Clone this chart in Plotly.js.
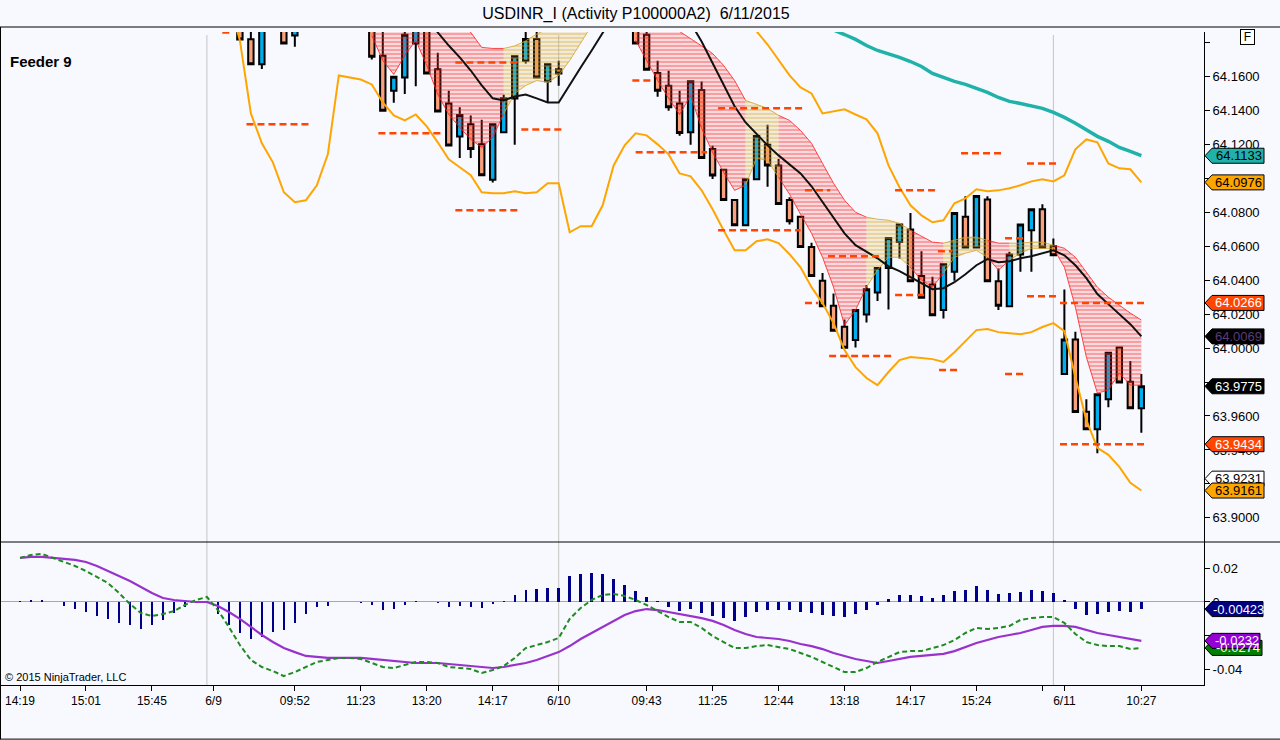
<!DOCTYPE html>
<html>
<head>
<meta charset="utf-8">
<script src="https://cdn.plot.ly/plotly-3.0.1.min.js"></script>
<style>
  html, body { margin: 0; padding: 0; background: #F7F9FE; }
  #chart { width: 1280px; height: 740px; }
</style>
</head>
<body>
<div id="chart"></div>
<script>
// ---- price bars (null = bar is above the visible window) ----
var openP = [
  null, null, null, null, null, null, null, null, null, null,
  null, null, null, null, null, null, null, null, null, null,
  64.195, 64.1819, 64.1672, null, 64.196, 64.1841, null, null, null, null,
  null, null, 64.196, 64.1722, 64.1516, 64.1594, 64.1794, 64.197, 64.1643, 64.1441,
  64.1247, 64.1319, 64.12, 64.0992, 64.1271, 64.147, 64.1692, 64.182, 64.1571, 64.1643,
  null, null, null, null, null, null, 64.197, 64.1845, 64.162, 64.1545,
  64.1441, 64.1271, 64.152, 64.1172, 64.105, 64.0872, 64.0724, 64.0994, 64.1198, 64.1075,
  64.0872, 64.0773, 64.0596, 64.0396, 64.0249, 64.0125, 64.0047, 64.0198, 64.0327, 64.0472,
  64.0625, 64.0698, 64.0425, 64.0375, 64.0224, 64.0449, 64.0773, 64.0592, 64.0875, 64.0394,
  64.0247, 64.0551, 64.0694, 64.0818, 64.06, 63.9847, 64.0051, 63.9625, 63.9522, 63.9698,
  64.0004, 63.9802, 63.9645
];
var highP = [
  null, null, null, null, null, null, null, null, null, null,
  null, null, null, null, null, null, null, null, null, null,
  64.199, 64.192, 64.198, null, 64.199, 64.196, null, null, null, null,
  null, null, 64.199, 64.195, 64.1598, 64.195, 64.199, 64.2, 64.174, 64.1516,
  64.1418, 64.137, 64.1345, 64.1319, 64.1492, 64.1719, 64.19, 64.19, 64.1672, 64.1692,
  null, null, null, null, null, null, 64.2, 64.195, 64.1692, 64.1633,
  64.1516, 64.1571, 64.157, 64.1192, 64.105, 64.0872, 64.0994, 64.1249, 64.1316, 64.1114,
  64.0888, 64.0773, 64.062, 64.0443, 64.0322, 64.0169, 64.0224, 64.0371, 64.0472, 64.0649,
  64.0728, 64.0796, 64.057, 64.042, 64.0494, 64.0796, 64.0894, 64.0896, 64.0894, 64.0469,
  64.0567, 64.0728, 64.0818, 64.0847, 64.0645, 64.0345, 64.0096, 63.9698, 63.9728, 63.9973,
  64.0004, 63.9924, 63.9847
];
var lowP = [
  null, null, null, null, null, null, null, null, null, null,
  null, null, null, null, null, null, null, null, null, null,
  64.181, 64.1672, 64.1644, null, 64.1794, 64.1775, null, null, null, null,
  null, null, 64.170, 64.1398, 64.1445, 64.1496, 64.1543, 64.1618, 64.1394, 64.1194,
  64.1119, 64.112, 64.1018, 64.0975, 64.1271, 64.1198, 64.1676, 64.1594, 64.1447, 64.1545,
  null, null, null, null, null, null, 64.1794, 64.1639, 64.148, 64.1398,
  64.1251, 64.1198, 64.112, 64.0996, 64.0872, 64.0724, 64.0724, 64.0994, 64.095, 64.0849,
  64.0728, 64.0596, 64.0425, 64.0247, 64.0102, 64.0002, 64.0004, 64.0151, 64.0278, 64.0228,
  64.0528, 64.0394, 64.0296, 64.0194, 64.0175, 64.0396, 64.0592, 64.0592, 64.0394, 64.0224,
  64.0247, 64.0449, 64.0449, 64.0592, 64.0547, 63.9847, 63.9624, 63.9522, 63.938, 63.9651,
  63.9798, 63.9645, 63.9502
];
var closeP = [
  null, null, null, null, null, null, null, null, null, null,
  null, null, null, null, null, null, null, null, null, null,
  64.1818, 64.1672, 64.195, null, 64.1794, 64.193, null, null, null, null,
  null, null, 64.1716, 64.1398, 64.1598, 64.1845, 64.196, 64.1618, 64.1394, 64.1194,
  64.1373, 64.1172, 64.1018, 64.1319, 64.1472, 64.1719, 64.182, 64.1594, 64.1672, 64.1618,
  null, null, null, null, null, null, 64.1794, 64.1639, 64.1516, 64.1418,
  64.1267, 64.1571, 64.112, 64.1016, 64.0872, 64.0724, 64.0994, 64.1249, 64.1075, 64.0849,
  64.0747, 64.0596, 64.0425, 64.0247, 64.0102, 64.0002, 64.0224, 64.0347, 64.0472, 64.0649,
  64.0728, 64.0394, 64.0296, 64.0194, 64.0494, 64.0796, 64.0592, 64.0896, 64.0394, 64.0249,
  64.0551, 64.0728, 64.0818, 64.0592, 64.0547, 64.0051, 63.9624, 63.9522, 63.9728, 63.9973,
  63.9798, 63.9645, 63.9775
];

// ---- envelope bands, long MA, black EMA ----
var lowerBand = [
  null, null, null, null, null, null, null, null, null, null,
  null, null, null, null, null, null, null, null, null, 64.205,
  64.1812, 64.1382, 64.1206, 64.1094, 64.0918, 64.0859, 64.0871, 64.0959, 64.1141, 64.1606,
  64.1594, 64.1582, 64.1553, 64.1447, 64.1371, 64.1341, 64.1376, 64.1306, 64.1212, 64.1112,
  64.1065, 64.1018, 64.0918, 64.0912, 64.0912, 64.0924, 64.0912, 64.0918, 64.0971, 64.0971,
  64.0682, 64.0718, 64.0718, 64.0841, 64.1076, 64.1194, 64.1265, 64.1253, 64.12, 64.1141,
  64.1029, 64.1012, 64.0929, 64.0818, 64.0694, 64.0576, 64.0576, 64.0629, 64.0641, 64.0618,
  64.0553, 64.0476, 64.0359, 64.0265, 64.0147, 63.9988, 63.9888, 63.9824, 63.9782, 63.9859,
  63.9929, 63.9947, 63.9941, 63.9935, 63.9918, 63.9976, 64.0041, 64.0106, 64.0112, 64.0094,
  64.0088, 64.0082, 64.0094, 64.0124, 64.0147, 64.0100, 63.9829, 63.9576, 63.9412, 63.9371,
  63.93, 63.9206, 63.9161
];
var upperBand = [
  null, null, null, null, null, null, null, null, null, null,
  null, null, null, null, null, null, null, null, null, null,
  null, null, null, null, null, null, null, null, null, null,
  null, null, null, null, null, null, null, null, null, null,
  null, null, null, null, null, null, null, null, null, null,
  null, null, null, null, null, null, null, null, null, null,
  null, null, null, null, null, null, 64.197, 64.1866, 64.1788, 64.1694,
  64.1606, 64.1535, 64.15, 64.1382, 64.1394, 64.1406, 64.1376, 64.1347, 64.1265, 64.1076,
  64.0947, 64.0841, 64.0782, 64.0741, 64.0753, 64.0853, 64.0882, 64.0935, 64.0924, 64.0929,
  64.0941, 64.0959, 64.0982, 64.0994, 64.0982, 64.1018, 64.1171, 64.1229, 64.1212, 64.1088,
  64.1059, 64.1053, 64.0976
];
var longMA = [
  null, null, null, null, null, null, null, null, null, null,
  null, null, null, null, null, null, null, null, null, null,
  null, null, null, null, null, null, null, null, null, null,
  null, null, null, null, null, null, null, null, null, null,
  null, null, null, null, null, null, null, null, null, null,
  null, null, null, null, null, null, null, null, null, null,
  null, null, null, null, null, null, null, null, null, null,
  null, null, null, 64.19, 64.1876, 64.1847, 64.1818, 64.1782, 64.1753, 64.1735,
  64.1712, 64.1688, 64.1659, 64.1618, 64.1594, 64.1571, 64.1553, 64.1529, 64.1506, 64.1476,
  64.1453, 64.1441, 64.1424, 64.1412, 64.1388, 64.1359, 64.1324, 64.1288, 64.1247, 64.1218,
  64.1182, 64.1159, 64.1133
];
var blackEma = [
  null, null, null, null, null, null, null, null, null, null,
  null, null, null, null, null, null, null, null, null, null,
  null, null, null, null, null, null, null, null, null, null,
  null, null, null, null, null, null, null, 64.195, 64.1859, 64.1782,
  64.1712, 64.1635, 64.1547, 64.1471, 64.1459, 64.1482, 64.1494, 64.1471, 64.1447, 64.1447,
  64.1553, 64.1653, 64.1753, 64.1853, 64.196, 64.203, 64.205, 64.204, 64.201, 64.198,
  64.195, 64.1915, 64.1806, 64.1676, 64.1547, 64.1424, 64.1329, 64.1259, 64.1194, 64.1135,
  64.1082, 64.1029, 64.0953, 64.0859, 64.0771, 64.0676, 64.0606, 64.0565, 64.0529, 64.0482,
  64.0453, 64.0418, 64.0382, 64.0347, 64.0353, 64.0388, 64.0435, 64.0488, 64.0524, 64.0506,
  64.0512, 64.0529, 64.0541, 64.0559, 64.0576, 64.0547, 64.0488, 64.0412, 64.0318, 64.0259,
  64.02, 64.0141, 64.0069
];

// ---- moving-average ribbon: outer edges and tone (r = falling, g = rising) ----
var ribbonSlow = [
  null, null, null, null, null, null, null, null, null, null,
  null, null, null, null, null, null, null, null, null, null,
  null, null, null, null, null, null, null, null, null, null,
  null, null, 64.196, 64.196, 64.196, 64.196, 64.196, 64.196, 64.194, 64.192,
  64.19, 64.186, 64.1771, 64.1765, 64.1765, 64.178, 64.181, 64.185, 64.188, 64.19,
  64.196, 64.198, 64.2, null, null, null, 64.198, 64.196, 64.193, 64.19,
  64.1865, 64.1824, 64.178, 64.1735, 64.1665, 64.1576, 64.1459, 64.1435, 64.1412, 64.1371,
  64.1341, 64.1282, 64.1206, 64.1088, 64.0971, 64.0871, 64.08, 64.0771, 64.0759, 64.0753,
  64.0735, 64.0694, 64.0659, 64.0624, 64.0618, 64.0635, 64.0653, 64.0653, 64.0635, 64.0618,
  64.0618, 64.0618, 64.0624, 64.0624, 64.0606, 64.0588, 64.0535, 64.0447, 64.0359, 64.03,
  64.0253, 64.0206, 64.0165
];
var ribbonFast = [
  null, null, null, null, null, null, null, null, null, null,
  null, null, null, null, null, null, null, null, null, null,
  null, null, null, null, null, null, null, null, null, null,
  null, null, 64.1841, 64.1694, 64.1612, 64.1724, 64.1812, 64.1665, 64.1494, 64.1376,
  64.13, 64.1229, 64.1182, 64.1241, 64.138, 64.150, 64.1547, 64.1576, 64.1565, 64.1606,
  64.1694, 64.18, 64.19, null, null, null, 64.1812, 64.1694, 64.1576, 64.1471,
  64.1376, 64.1488, 64.1294, 64.1153, 64.1035, 64.0929, 64.0959, 64.1118, 64.1106, 64.1006,
  64.0906, 64.0788, 64.0676, 64.0535, 64.0359, 64.0135, 64.0224, 64.0359, 64.0459, 64.0535,
  64.0535, 64.0476, 64.04, 64.0359, 64.0441, 64.0535, 64.0559, 64.0576, 64.0535, 64.0459,
  64.0518, 64.0559, 64.0588, 64.0588, 64.0588, 64.0476, 64.0241, 63.9947, 63.9735, 63.9753,
  63.9853, 63.9782, 63.9782
];
var ribbonTone = [
  null, null, null, null, null, null, null, null, null, null,
  null, null, null, null, null, null, null, null, null, null,
  null, null, null, null, null, null, null, null, null, null,
  null, null, 'r', 'r', 'r', 'r', 'r', 'r', 'r', 'r',
  'r', 'r', 'r', 'r', 'g', 'g', 'g', 'g', 'g', 'g',
  'g', 'g', 'g', null, null, null, 'r', 'r', 'r', 'r',
  'r', 'r', 'r', 'r', 'r', 'r', 'g', 'g', 'g', 'r',
  'r', 'r', 'r', 'r', 'r', 'r', 'r', 'g', 'g', 'g',
  'g', 'r', 'r', 'r', 'g', 'g', 'g', 'g', 'r', 'r',
  'g', 'g', 'g', 'g', 'r', 'r', 'r', 'r', 'r', 'r',
  'r', 'r', 'r'
];

// ---- pivot levels (dashed) ----
var pivotLevel = [64.1859, 64.1318, 64.1265, 64.1682, 64.0812, 64.1288, 64.1576, 64.1153, 64.1412, 64.0694,
  64.0929, 64.0265, 64.0541, 63.9953, 64.0929, 64.0312, 63.9871, 64.0571, 64.1147, 64.0647,
  63.9847, 64.1088, 64.0306, 64.0266, 63.9434];
var pivotFrom = [18.4, 20.6, 32.6, 39.6, 39.6, 45.6, 55.7, 56.0, 63.5, 63.5,
  71.4, 71.4, 73.5, 73.6, 79.6, 79.6, 83.6, 83.5, 85.6, 89.6,
  89.6, 91.6, 91.6, 94.6, 94.6];
var pivotTo = [19.3, 26.4, 38.6, 45.5, 45.3, 49.4, 57.5, 62.5, 71.4, 71.0,
  73.7, 72.6, 78.4, 79.4, 83.4, 82.6, 85.4, 84.8, 89.4, 91.3,
  91.4, 94.4, 94.4, 102.4, 102.4];

// ---- MACD panel ----
var macdHist = [
  0.0006, 0.0012, 0.0012, 0.0, -0.0022, -0.0042, -0.0058, -0.0084, -0.01, -0.0124,
  -0.0137, -0.0161, -0.0137, -0.0107, -0.0068, -0.0028, -0.0008, 0.0005, -0.0072, -0.0137,
  -0.0183, -0.0221, -0.0207, -0.0177, -0.0167, -0.0124, -0.0072, -0.0028, -0.0024, 0.0,
  0.0, -0.0004, -0.0018, -0.0048, -0.0042, -0.002, 0.0006, 0.0, -0.0008, -0.0028,
  -0.0022, -0.0028, -0.0034, -0.0014, 0.0008, 0.0042, 0.0072, 0.008, 0.0086, 0.0086,
  0.0155, 0.0167, 0.0173, 0.0165, 0.0137, 0.0101, 0.0068, 0.0032, 0.0006, -0.0028,
  -0.0052, -0.0044, -0.0068, -0.0084, -0.0098, -0.0112, -0.0092, -0.0058, -0.0048, -0.0048,
  -0.0048, -0.0058, -0.0068, -0.0078, -0.0084, -0.0092, -0.0072, -0.0048, -0.0018, 0.0016,
  0.0042, 0.0042, 0.0036, 0.0022, 0.0042, 0.0068, 0.0072, 0.0096, 0.0072, 0.0048,
  0.0052, 0.0058, 0.0072, 0.0068, 0.0056, 0.0012, -0.0042, -0.0078, -0.0072, -0.0058,
  -0.0054, -0.0058, -0.0042
];
var macdSignal = [
  0.0263, 0.0269, 0.0269, 0.0263, 0.0257, 0.0251, 0.0239, 0.0215, 0.0185, 0.0155,
  0.0125, 0.009, 0.0054, 0.0024, 0.0012, 0.0006, 0.0, 0.0, -0.0024, -0.006,
  -0.0101, -0.0149, -0.0197, -0.0239, -0.0275, -0.0299, -0.0322, -0.0328, -0.0334, -0.0334,
  -0.0334, -0.0334, -0.034, -0.0346, -0.0352, -0.0358, -0.0364, -0.0364, -0.0364, -0.037,
  -0.0376, -0.0382, -0.0388, -0.0394, -0.0388, -0.0376, -0.0364, -0.0346, -0.0322, -0.0299,
  -0.0263, -0.0221, -0.0185, -0.0149, -0.0113, -0.0078, -0.0054, -0.0042, -0.0048, -0.006,
  -0.0072, -0.0084, -0.0096, -0.0113, -0.0137, -0.0167, -0.0191, -0.0209, -0.0215, -0.0221,
  -0.0233, -0.0251, -0.0263, -0.0281, -0.0304, -0.0322, -0.034, -0.0352, -0.0364, -0.0352,
  -0.034, -0.0328, -0.0322, -0.0316, -0.031, -0.0293, -0.0269, -0.0245, -0.0227, -0.0209,
  -0.0197, -0.0185, -0.0167, -0.0149, -0.0143, -0.0143, -0.0149, -0.0167, -0.0185, -0.0197,
  -0.0209, -0.0221, -0.0232
];
var macdLine = [
  0.0263, 0.0281, 0.0287, 0.0263, 0.0239, 0.0215, 0.0185, 0.0149, 0.0113, 0.0054,
  -0.0012, -0.0066, -0.0084, -0.0072, -0.0054, -0.0018, 0.0012, 0.003, -0.0048, -0.0149,
  -0.0257, -0.0346, -0.0388, -0.0412, -0.0442, -0.0418, -0.0388, -0.0358, -0.0346, -0.0334,
  -0.0334, -0.034, -0.0364, -0.0388, -0.0394, -0.0376, -0.0358, -0.0358, -0.0364, -0.0388,
  -0.0394, -0.04, -0.0424, -0.0406, -0.0382, -0.0334, -0.0275, -0.0257, -0.0239, -0.0215,
  -0.0101, -0.0036, 0.0012, 0.0042, 0.0048, 0.0036, 0.0012, -0.0018, -0.0054, -0.009,
  -0.0119, -0.0119, -0.0155, -0.0203, -0.0239, -0.0275, -0.0275, -0.0263, -0.0257, -0.0269,
  -0.0281, -0.0304, -0.0328, -0.0358, -0.0388, -0.0418, -0.0418, -0.0394, -0.0358, -0.0328,
  -0.0299, -0.0293, -0.0293, -0.0275, -0.0257, -0.0227, -0.0185, -0.0155, -0.0161, -0.0155,
  -0.0143, -0.0107, -0.0096, -0.009, -0.009, -0.0125, -0.0191, -0.0239, -0.0257, -0.0263,
  -0.0263, -0.0281, -0.0274
];

// ---- axis ticks and right-hand value tags ----
var timeTickPos = [0, 6, 12, 17.6, 25, 31, 37, 43, 49, 57, 63, 69, 75, 81, 87, 93, 95, 102];
var timeTickText = ['14:19', '15:01', '15:45', '6/9', '09:52', '11:23', '13:20', '14:17', '6/10',
  '09:43', '11:25', '12:44', '13:18', '14:17', '15:24', '', '6/11', '10:27'];
var sessionBreaks = [17, 49, 94];
var priceTicks = [63.90, 63.92, 63.94, 63.96, 63.98, 64.00, 64.02, 64.04, 64.06, 64.08, 64.10, 64.12, 64.14, 64.16, 64.18];
// labels that sit fully behind a value tag (or at the clipped top) are left blank
var priceTickText = ['63.9000', '', '63.9400', '63.9600', '', '64.0000', '64.0200', '64.0400', '64.0600',
  '64.0800', '', '64.1200', '64.1400', '64.1600', ''];
var macdTicks = [0.02, 0, -0.02, -0.04];
var macdTickText = ['0.02', '0', '', '-0.04'];

var priceTagVals = [64.1133, 64.0976, 64.0266, 64.0069, 63.9775, 63.9434, 63.9231, 63.9161];
var priceTagBg = ['#20B2AA', '#FFA500', '#FF4500', '#000000', '#000000', '#FF4500', '#FFFFFF', '#FFA500'];
var priceTagFg = ['#000000', '#000000', '#FFFFFF', '#5B3C75', '#FFFFFF', '#FFFFFF', '#000000', '#000000'];
var macdTagVals = [-0.00423, -0.0274, -0.0232];
var macdTagText = ['-0.00423', '-0.0274', '-0.0232'];
var macdTagBg = ['#000080', '#008000', '#9400D3'];
var macdTagRight = [1263, 1262, 1260];

var N = closeP.length;
var bars = [];
for (var i = 0; i < N; i++) bars.push(i);

var FONT = 'Liberation Sans, Arial, sans-serif';
var BG = '#F7F9FE';
var PRICE_RANGE = [63.8858, 64.1862];
var MACD_RANGE = [-0.04955, 0.03582];
var TOP_DOM = [0.2676, 0.9568];
var BOT_DOM = [0.0743, 0.2676];

var data = [];

function line(y, color, width, dash, axes) {
  return {
    x: bars, y: y, type: 'scatter', mode: 'lines',
    line: { color: color, width: width, dash: dash || 'solid' },
    xaxis: axes ? axes[0] : 'x', yaxis: axes ? axes[1] : 'y',
    hoverinfo: 'skip', showlegend: false, connectgaps: false
  };
}

data.push(line(lowerBand, '#FFA500', 2));
data.push(line(upperBand, '#FFA500', 2));
data.push(line(longMA, '#20B2AA', 3.5));

// ribbon: split into runs of one tone, each run a hatched band between the edges
var toneLine = { r: '#FF1A1A', g: '#D4A020' };
var toneBg = { r: 'rgba(255,60,60,0.16)', g: 'rgba(218,165,32,0.16)' };
var runs = [];
var cur = null;
for (var i = 0; i < N; i++) {
  var t = ribbonTone[i];
  if (t === null || ribbonSlow[i] === null) {
    if (cur) { runs.push(cur); cur = null; }
    continue;
  }
  if (!cur) cur = { tone: t, idx: [i] };
  else if (cur.tone === t) cur.idx.push(i);
  else { cur.idx.push(i); runs.push(cur); cur = { tone: t, idx: [i] }; }
}
if (cur) runs.push(cur);

runs.forEach(function (run) {
  var xs = run.idx;
  var slow = xs.map(function (k) { return ribbonSlow[k]; });
  var fast = xs.map(function (k) { return ribbonFast[k]; });
  data.push({
    x: xs, y: slow, type: 'scatter', mode: 'lines',
    line: { color: toneLine[run.tone], width: 0.8 },
    xaxis: 'x', yaxis: 'y', hoverinfo: 'skip', showlegend: false
  });
  data.push({
    x: xs, y: fast, type: 'scatter', mode: 'lines', fill: 'tonexty',
    fillcolor: toneBg[run.tone],
    fillpattern: { shape: '-', size: 4, solidity: 0.22, fgcolor: toneLine[run.tone], fgopacity: 0.75, bgcolor: toneBg[run.tone] },
    line: { color: toneLine[run.tone], width: 0.8 },
    xaxis: 'x', yaxis: 'y', hoverinfo: 'skip', showlegend: false
  });
});

data.push(line(blackEma, '#111111', 2));

// pivot dashes as one broken trace
var px = [], py = [];
pivotLevel.forEach(function (lv, k) {
  px.push(pivotFrom[k], pivotTo[k], null);
  py.push(lv, lv, null);
});
data.push({
  x: px, y: py, type: 'scatter', mode: 'lines',
  line: { color: '#FF4500', width: 2.5, dash: '7px,4px' },
  xaxis: 'x', yaxis: 'y', hoverinfo: 'skip', showlegend: false
});

data.push({
  type: 'candlestick', x: bars, open: openP, high: highP, low: lowP, close: closeP,
  xaxis: 'x', yaxis: 'y', whiskerwidth: 0,
  increasing: { line: { color: '#000000', width: 2 }, fillcolor: '#00AEEF' },
  decreasing: { line: { color: '#000000', width: 2 }, fillcolor: '#F9A07C' },
  hoverinfo: 'skip', showlegend: false
});

// MACD
data.push({
  x: bars, y: macdHist, type: 'bar', width: 0.22,
  marker: { color: '#00008B', line: { width: 0 } },
  xaxis: 'x2', yaxis: 'y2', hoverinfo: 'skip', showlegend: false
});
data.push(line(macdSignal, '#9932CC', 2.2, 'solid', ['x2', 'y2']));
data.push(line(macdLine, '#1E8C1E', 2, '5px,3px', ['x2', 'y2']));

// value tags on the right axis
var shapes = [];
var annotations = [];
function addTag(v, yref, pxPerUnit, bg, fg, text, right, border) {
  var h = 7.5 / pxPerUnit;
  var x0 = 1205 / 1280, x1 = 1212 / 1280, x2 = right / 1280;
  shapes.push({
    type: 'path', xref: 'paper', yref: yref, layer: 'above',
    path: 'M ' + x0 + ' ' + v + ' L ' + x1 + ' ' + (v + h) + ' L ' + x2 + ' ' + (v + h) +
      ' L ' + x2 + ' ' + (v - h) + ' L ' + x1 + ' ' + (v - h) + ' Z',
    fillcolor: bg, line: { color: border, width: 1 }
  });
  annotations.push({
    xref: 'paper', yref: yref, x: (1213 + right) / 2 / 1280, y: v,
    xanchor: 'center', yanchor: 'middle', showarrow: false, text: text,
    font: { family: FONT, size: 13, color: fg }
  });
}
var pricePx = 510 / (PRICE_RANGE[1] - PRICE_RANGE[0]);
var macdPx = 143 / (MACD_RANGE[1] - MACD_RANGE[0]);
priceTagVals.forEach(function (v, k) {
  addTag(v, 'y', pricePx, priceTagBg[k], priceTagFg[k], v.toFixed(4), 1264, '#000000');
});
macdTagVals.forEach(function (v, k) {
  addTag(v, 'y2', macdPx, macdTagBg[k], '#FFFFFF', macdTagText[k], macdTagRight[k], '#000000');
});

// frame lines and session separators
function paperLine(x0, y0, x1, y1, color) {
  shapes.push({ type: 'line', xref: 'paper', yref: 'paper', x0: x0, y0: y0, x1: x1, y1: y1,
    line: { color: color, width: 1 }, layer: 'above' });
}
paperLine(0, 1 - 27 / 740, 1, 1 - 27 / 740, '#000000');
paperLine(0, 1 - 542 / 740, 1, 1 - 542 / 740, '#000000');
paperLine(0.0004, 1 - 27 / 740, 0.0004, 0.001, '#000000');
paperLine(0, 0.0012, 1, 0.0012, '#000000');
sessionBreaks.forEach(function (b) {
  shapes.push({ type: 'line', xref: 'x', yref: 'paper', x0: b, x1: b, y0: BOT_DOM[0], y1: 1 - 35 / 740,
    line: { color: '#C4C4C4', width: 1 }, layer: 'below' });
});

annotations.push({
  xref: 'paper', yref: 'paper', x: 8 / 1280, y: 1 - 61 / 740, xanchor: 'left', yanchor: 'middle',
  showarrow: false, text: '<b>Feeder 9</b>', font: { family: FONT, size: 15, color: '#000000' }
});
annotations.push({
  xref: 'paper', yref: 'paper', x: 3 / 1280, y: 1 - 677 / 740, xanchor: 'left', yanchor: 'middle',
  showarrow: false, text: '© 2015 NinjaTrader, LLC', font: { family: FONT, size: 11, color: '#000000' }
});
annotations.push({
  xref: 'paper', yref: 'paper', x: 1247.5 / 1280, y: 1 - 37.5 / 740, xanchor: 'center', yanchor: 'middle',
  showarrow: false, text: 'F', font: { family: FONT, size: 12, color: '#000000' },
  bordercolor: '#000000', borderwidth: 1, borderpad: 1, bgcolor: '#FFFFFF', width: 11, height: 12
});

var layout = {
  width: 1280, height: 740,
  margin: { l: 0, r: 0, t: 0, b: 0 },
  paper_bgcolor: BG, plot_bgcolor: BG,
  showlegend: false,
  bargap: 0,
  title: {
    text: 'USDINR_I (Activity P100000A2)&nbsp; 6/11/2015',
    x: 636 / 1280, xanchor: 'center', y: 1 - 13 / 740, yanchor: 'middle',
    font: { family: FONT, size: 16, color: '#000000' }
  },
  xaxis: {
    domain: [0, 1204 / 1280], range: [-1.82, 107.7], anchor: 'y',
    showticklabels: false, showgrid: false, zeroline: false, showline: false, ticks: '',
    rangeslider: { visible: false }, fixedrange: true
  },
  xaxis2: {
    domain: [0, 1204 / 1280], range: [-1.82, 107.7], anchor: 'y2', matches: 'x',
    tickmode: 'array', tickvals: timeTickPos, ticktext: timeTickText,
    ticks: 'outside', ticklen: 5, tickcolor: '#000000', tickwidth: 1,
    showline: true, linecolor: '#000000', linewidth: 1,
    showgrid: false, zeroline: false,
    tickfont: { family: FONT, size: 12, color: '#000000' }
  },
  yaxis: {
    domain: TOP_DOM, range: PRICE_RANGE, anchor: 'x', side: 'right',
    tickmode: 'array', tickvals: priceTicks, ticktext: priceTickText,
    ticks: 'outside', ticklen: 5, tickcolor: '#000000',
    showline: true, linecolor: '#000000', linewidth: 1,
    showgrid: false, zeroline: false,
    tickfont: { family: FONT, size: 13, color: '#000000' }
  },
  yaxis2: {
    domain: BOT_DOM, range: MACD_RANGE, anchor: 'x2', side: 'right',
    tickmode: 'array', tickvals: macdTicks, ticktext: macdTickText,
    ticks: 'outside', ticklen: 5, tickcolor: '#000000',
    showline: true, linecolor: '#000000', linewidth: 1,
    showgrid: false, zeroline: true, zerolinecolor: '#A8A8A8', zerolinewidth: 1,
    tickfont: { family: FONT, size: 13, color: '#000000' }
  },
  shapes: shapes,
  annotations: annotations
};

Plotly.newPlot('chart', data, layout, { displayModeBar: false, staticPlot: true });
</script>
</body>
</html>
